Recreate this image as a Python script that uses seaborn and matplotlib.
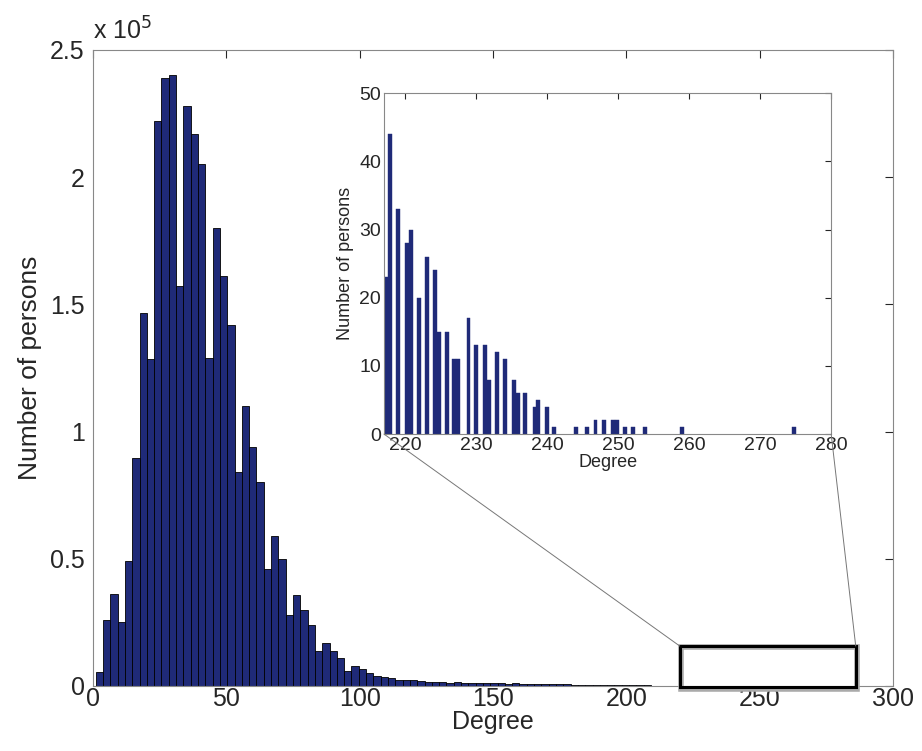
import numpy as np
import pandas as pd
import matplotlib
matplotlib.use("Agg")
import matplotlib.pyplot as plt
from matplotlib.patches import Rectangle, ConnectionPatch
import seaborn as sns

# main histogram: 100 bins between degree 1 and 275, counts in units of 1e5
main_counts = [0.056, 0.26, 0.36, 0.25, 0.49, 0.895, 1.465, 1.285, 2.22, 2.39,
               2.40, 1.57, 2.28, 2.17, 2.05, 1.29, 1.80, 1.61, 1.42, 0.84,
               1.10, 0.94, 0.80, 0.46, 0.59, 0.50, 0.28, 0.357, 0.30, 0.24,
               0.137, 0.17, 0.137, 0.108, 0.06, 0.077, 0.066, 0.05, 0.038, 0.034,
               0.031, 0.022, 0.025, 0.022, 0.018, 0.016, 0.017, 0.015, 0.013, 0.014,
               0.013, 0.011, 0.012, 0.011, 0.010, 0.011, 0.009, 0.010, 0.009, 0.008,
               0.008, 0.007, 0.007, 0.006, 0.006, 0.005, 0.005, 0.004, 0.004, 0.004,
               0.003, 0.003, 0.003, 0.003, 0.002, 0.002, 0.0015, 0.001, 0.0005, 0.0003,
               0.0002, 0.0002, 0.0001, 0.0001, 0.0001, 0.0001, 0.0001, 0.0001, 0.0001, 0.0001,
               0.0001, 0.0001, 0.0001, 0.0001, 0.0001, 0.0001, 0.0001, 0.0001, 0.0001, 0.0001]
deg_min, deg_max = 1, 275
bin_w = (deg_max - deg_min) / len(main_counts)

# inset: tail of the distribution
tail_degree = [217.3, 217.8, 219.0, 220.2, 220.75, 221.9, 223.1, 224.2, 224.8, 225.9,
               226.8, 227.4, 228.9, 230.0, 231.2, 231.8, 232.95, 234.1, 235.3, 235.9,
               236.9, 238.2, 238.7, 239.9, 241.0, 244.0, 245.6, 246.8, 248.0, 249.2,
               249.8, 250.9, 252.1, 253.8, 259.0, 274.7]
tail_count = [23, 44, 33, 28, 30, 20, 26, 24, 15, 15,
              11, 11, 17, 13, 13, 8, 12, 11, 8, 6,
              6, 4, 5, 4, 1, 1, 1, 2, 2, 2,
              2, 1, 1, 1, 1, 1]

sns.set_style("white")
plt.rcParams['font.family'] = ['Liberation Sans', 'DejaVu Sans']
navy = "#1f2a78"

fig = plt.figure(figsize=(9.22, 7.51), dpi=100)
ax = fig.add_axes([0.1009, 0.0866, 0.8677, 0.847])
df = pd.DataFrame({"deg": deg_min + bin_w * (np.arange(len(main_counts)) + 0.5),
                   "n": main_counts})
sns.histplot(data=df, x="deg", weights="n", binwidth=bin_w, binrange=(deg_min, deg_max),
             ax=ax, color=navy, edgecolor="black", linewidth=0.6, alpha=1)
ax.set_xlim(0, 300)
ax.set_ylim(0, 2.5)
ax.set_xticks([0, 50, 100, 150, 200, 250, 300])
ax.set_yticks([0, 0.5, 1, 1.5, 2, 2.5])
ax.set_yticklabels(["0", "0.5", "1", "1.5", "2", "2.5"])
ax.tick_params(labelsize=18, direction="in", top=True, right=True, length=6)
ax.tick_params(axis="y", pad=6)
ax.tick_params(axis="x", pad=1)
ax.set_xlabel("Degree", fontsize=18, labelpad=-1)
ax.set_ylabel("Number of persons", fontsize=19, labelpad=6)
ax.text(0, 1.008, r"x 10$^5$", transform=ax.transAxes, fontsize=18, va="bottom")
for s in ax.spines.values():
    s.set_color("#888888")
    s.set_linewidth(0.8)

# zoom box
ax.add_patch(Rectangle((220.5, -0.01), 66, 0.165, fill=False, edgecolor="#aaaaaa",
                       linewidth=4, clip_on=False, zorder=4))
ax.add_patch(Rectangle((220, -0.005), 66, 0.162, fill=False, edgecolor="black",
                       linewidth=2.2, clip_on=False, zorder=5))

ins = fig.add_axes([0.4165, 0.422, 0.485, 0.454])
ins.bar(tail_degree, tail_count, width=0.55, color=navy, edgecolor=navy, linewidth=0.3)
ins.set_xlim(217, 280)
ins.set_ylim(0, 50)
ins.set_xticks([220, 230, 240, 250, 260, 270, 280])
ins.set_yticks([0, 10, 20, 30, 40, 50])
ins.tick_params(labelsize=14, direction="in", top=True, right=True, length=4, pad=2)
ins.set_xlabel("Degree", fontsize=13, labelpad=0)
ins.set_ylabel("Number of persons", fontsize=13)
for s in ins.spines.values():
    s.set_color("#888888")
    s.set_linewidth(0.8)

for xa, xb in [(0, 220), (1, 286)]:
    con = ConnectionPatch(xyA=(xa, 0), coordsA=ins.transAxes, xyB=(xb, 0.157),
                          coordsB=ax.transData, color="#777777", linewidth=0.7)
    fig.add_artist(con)

fig.savefig("out.png", dpi=100)
